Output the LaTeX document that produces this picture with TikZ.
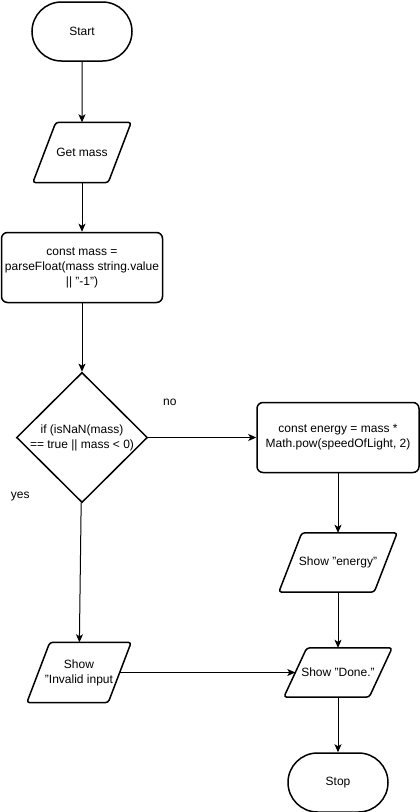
\documentclass[tikz,border=0pt]{standalone}
\usepackage{fontspec}
\setmainfont{Liberation Sans}
\usetikzlibrary{shapes.geometric,shapes.misc,arrows.meta,positioning}

\begin{document}
\begin{tikzpicture}[x=1pt,y=1pt,node distance=100pt,on grid,auto,
  font=\fontsize{12}{15}\selectfont,
  term/.style={rounded rectangle,draw,line width=1.5pt,minimum width=100pt,minimum height=59pt,inner sep=0pt},
  io/.style={rectangle,inner sep=0pt,align=center},
  io line/.style={draw,line width=1.5pt,rounded corners=3pt},
  proc/.style={rectangle,draw,line width=1.5pt,rounded corners=6pt,inner sep=0pt,align=center,minimum height=70pt},
  decide/.style={diamond,draw,line width=1.5pt,inner sep=0pt,aspect=1,align=center,minimum width=131pt,minimum height=130pt},
  flow/.style={-{Stealth[length=8pt,width=7pt,inset=2pt]},line width=1pt}]
					\useasboundingbox[fill=white] (0,0) rectangle (420,-812);
					\node[term] (start) at (82,-31.5) {Start};
					\node[io,minimum width=98pt,minimum height=60pt] (get_m) [below=121pt of start] {Get mass};
					\node[proc,minimum width=161pt] (calc_m) [below=115pt of get_m] {const mass =\\parseFloat(mass string.value\\|| "-1")};
					\node[decide] (check) [below=170pt of calc_m] {if (isNaN(mass)\\== true || mass < 0)};
					\node[proc,minimum width=162pt] (calc_e) [right=256pt of check] {const energy = mass *\\Math.pow(speedOfLight, 2)};
					\node[io,minimum width=118pt,minimum height=59pt] (out_e) [below=125pt of calc_e] {Show "energy"};
					\node[io,minimum width=108pt,minimum height=49pt] (out_done) [below=235pt of calc_e] {Show "Done."};
					\node[io,minimum width=104pt,minimum height=60pt] (out_err) [below=235pt of check, xshift=-3pt] {Show\\"Invalid input};
					\node[term] (stop) [below=110pt of out_done] {Stop};
					% parallelogram outlines
					\foreach \n in {get_m,out_e,out_done,out_err}
					  \path[io line] ([xshift=23pt]\n.north west) -- (\n.north east)
					    -- ([xshift=-23pt]\n.south east) -- (\n.south west) -- cycle;
					\path[flow]
					(start) edge (get_m)
					(get_m) edge (calc_m)
					(calc_m) edge (check)
					(check) edge node[pos=0.2,anchor=center,yshift=35pt] {no} (calc_e)
					(check) edge node[pos=0,anchor=center,xshift=-61pt,yshift=6pt] {yes} (out_err)
					(calc_e) edge (out_e)
					(out_e) edge (out_done)
					([xshift=-11.5pt]out_err.east) edge ([xshift=11.5pt]out_done.west)
					(out_done) edge (stop);
				\end{tikzpicture}
\end{document}
